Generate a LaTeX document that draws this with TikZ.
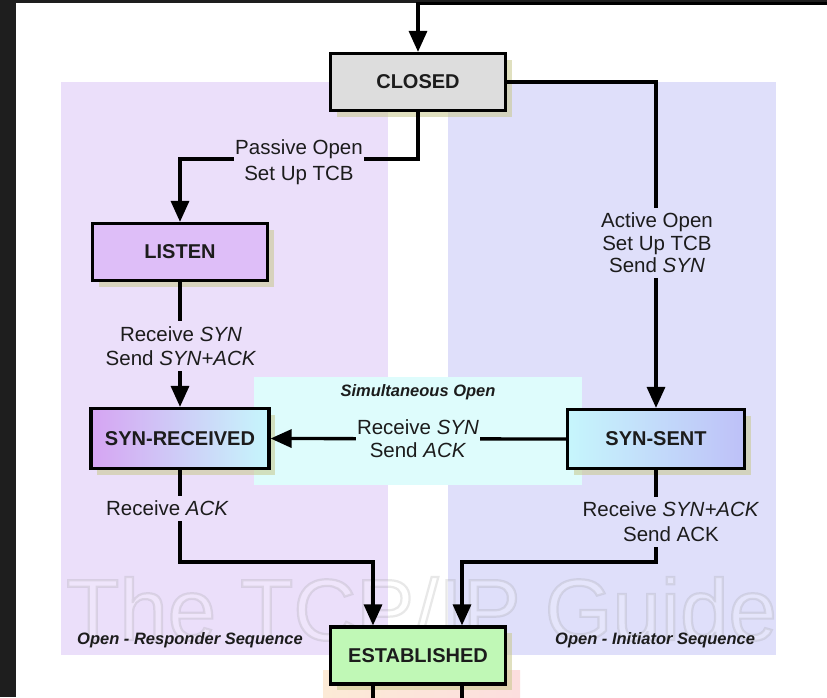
\documentclass[tikz,border=0pt]{standalone}
\usepackage{fontspec}
\setmainfont{Liberation Sans}
\usetikzlibrary{arrows.meta,shadows}

\definecolor{bgdark}{RGB}{30,30,30}
\definecolor{resppanel}{RGB}{235,223,250}
\definecolor{initpanel}{RGB}{223,223,250}
\definecolor{simpanel}{RGB}{222,252,252}
\definecolor{closedfill}{RGB}{221,221,221}
\definecolor{listenfill}{RGB}{222,190,248}
\definecolor{purpleend}{RGB}{214,164,242}
\definecolor{cyanend}{RGB}{198,246,252}
\definecolor{blueend}{RGB}{190,192,248}
\definecolor{estfill}{RGB}{192,248,182}
\definecolor{shadowcol}{RGB}{200,200,140}
\definecolor{peach}{RGB}{252,234,214}
\definecolor{pinkish}{RGB}{252,222,222}
\definecolor{ink}{RGB}{28,28,28}

% outlined glyphs: fill in the current colour, stroke in mid gray
\newcommand{\outlinedtext}[1]{%
  \special{pdf:literal direct 2 Tr 2.2 w 0.55 G}#1\special{pdf:literal direct 0 Tr}}

\begin{document}
\begin{tikzpicture}[x=1pt,y=-1pt,
  stbox/.style={draw=black, line width=3.2pt, minimum width=175pt,
    minimum height=57pt, inner sep=0pt, text=ink,
    font=\fontsize{20}{24}\selectfont\bfseries,
    drop shadow={shadow xshift=6pt, shadow yshift=-6pt, fill=shadowcol, opacity=0.55}},
  conn/.style={line width=3.3pt, draw=black},
  arr/.style={conn, -{Triangle[width=18pt,length=21pt]}},
  lbl/.style={font=\fontsize{20.5}{24}\selectfont, text=ink, align=center,
    inner xsep=1.5pt, inner ysep=5pt},
  seqlbl/.style={font=\fontsize{16.5}{20}\selectfont\bfseries\itshape, text=ink, inner sep=0pt},
  wm/.style={anchor=base west, inner sep=0pt, font=\fontsize{87}{87}\selectfont},
]
\useasboundingbox (0,0) rectangle (827,697);

% page background and dark frame strips
\fill[white] (0,0) rectangle (827,697);
\fill[bgdark] (0,0) rectangle (16,697);
\fill[bgdark] (0,0) rectangle (827,3);

% sequence panels
\fill[resppanel] (61,82) rectangle (388,655);
\fill[initpanel] (448,82) rectangle (776,655);
\fill[simpanel] (254,377) rectangle (582,485);
\shade[left color=peach, right color=pinkish] (323,670) rectangle (520,697);

% faint outlined watermark
\node[wm, text=white, opacity=0.2] (watermark) at (66,640)
  {\outlinedtext{The TCP/IP Guide}};

% states
\node[stbox, fill=closedfill] (closed) at (418,82) {CLOSED};
\node[stbox, fill=listenfill] (listen) at (180,252) {LISTEN};
\node[stbox, minimum width=178pt, minimum height=60pt,
      left color=purpleend, right color=cyanend] (synrcvd) at (180,438.5) {SYN-RECEIVED};
\node[stbox, minimum width=177pt, minimum height=59pt,
      left color=cyanend, right color=blueend] (synsent) at (656,439) {SYN-SENT};
\node[stbox, fill=estfill] (established) at (418,655.5) {ESTABLISHED};

% transitions
\coordinate (entry) at (827,3.5);
\coordinate (pasv) at (299,159);
\draw[arr] (entry) -| (closed.north);
\draw[arr] (closed.south) |- (pasv) -| (listen.north);
\draw[arr] (closed.east) -| (synsent.north);
\draw[arr] (listen.south) -- (synrcvd.north);
\draw[arr] (synsent.west) -- (synrcvd.east);
\draw[arr] (synrcvd.south) -- ++(0,92) -| ([xshift=-45pt]established.north);
\draw[arr] (synsent.south) -- ++(0,92) -| ([xshift=44pt]established.north);
\draw[conn] ([xshift=-45pt]established.south) -- ++(0,14);
\draw[conn] ([xshift=44pt]established.south) -- ++(0,14);

% transition labels
\node[lbl, fill=resppanel, font=\fontsize{20.5}{26}\selectfont] (pasvlbl) at (299,162.5)
  {Passive Open\\Set Up TCB};
\node[lbl, fill=initpanel, font=\fontsize{20.5}{22.5}\selectfont] (actlbl) at (657,243)
  {Active Open\\Set Up TCB\\Send \textit{SYN}};
\node[lbl, fill=resppanel] (synlbl) at (181,346)
  {Receive \textit{SYN}\\Send \textit{SYN+ACK}};
\node[lbl, fill=simpanel, font=\fontsize{20.5}{23}\selectfont] (simlbl) at (418,439)
  {Receive \textit{SYN}\\Send \textit{ACK}};
\node[lbl, fill=resppanel] (acklbl) at (167.5,508.5) {Receive \textit{ACK}};
\node[lbl, fill=initpanel, font=\fontsize{20.5}{25}\selectfont] (synacklbl) at (671,522)
  {Receive \textit{SYN+ACK}\\Send ACK};

% panel titles
\node[seqlbl] (simtitle) at (418,392) {Simultaneous Open};
\node[seqlbl, anchor=west] (resptitle) at (77,640.5) {Open - Responder Sequence};
\node[seqlbl, anchor=west] (inittitle) at (555,640.5) {Open - Initiator Sequence};
\end{tikzpicture}
\end{document}
